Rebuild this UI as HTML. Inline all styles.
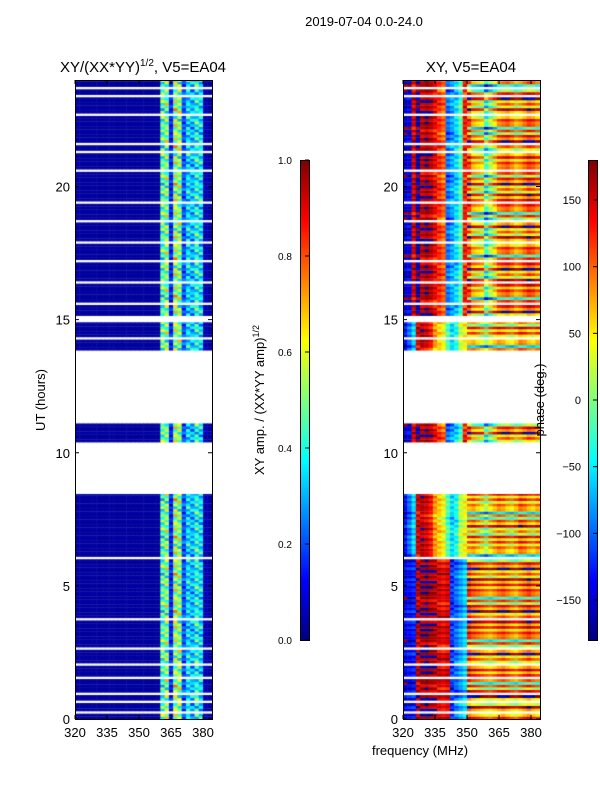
<!DOCTYPE html>
<html><head><meta charset="utf-8">
<style>
html,body{margin:0;padding:0;background:#fff;}
#wrap{position:relative;width:600px;height:800px;overflow:hidden;font-family:"Liberation Sans",sans-serif;}
canvas{position:absolute;}
svg{position:absolute;left:0;top:0;}
text{font-family:"Liberation Sans",sans-serif;fill:#000;}
</style></head>
<body>
<div id="wrap">
<canvas id="ampC" width="137" height="639" style="left:75px;top:80px"></canvas>
<canvas id="phC" width="137" height="639" style="left:403px;top:80px"></canvas>
<canvas id="cb1" width="9" height="480" style="left:300px;top:160px"></canvas>
<canvas id="cb2" width="9" height="480" style="left:588px;top:160px"></canvas>
<svg id="ov" width="600" height="800"></svg>
</div>
<script>
// ---- data ----
const freqMin = 320, freqMax = 384.2, tMin = 0, tMax = 24;
const xTicks = [320, 335, 350, 365, 380];
const yTicks = [0, 5, 10, 15, 20];
const cb1Ticks = [0.0, 0.2, 0.4, 0.6, 0.8, 1.0];
const cb2Ticks = [-150, -100, -50, 0, 50, 100, 150];
// amplitude per 2 MHz bin from 320 to 384
const ampCols = [0.03,0.03,0.03,0.03,0.03,0.03,0.03,0.03,0.03,0.03,0.03,0.03,0.03,0.03,0.03,0.03,0.03,0.03,0.03,0.03,0.45,0.5,0.15,0.55,0.5,0.2,0.35,0.3,0.4,0.35,0.05,0.03];
const ampRowMod = [1,0.7,1.3,0.9,1.2,0.6,1.1,0.8,1.4,1.0,0.75,1.25,0.85,1.15];
// phase per 2 MHz bin (320..384), by segment
const phaseLow  = [-150,-140,-130,160,170,175,165,160,150,140,150,-120,-100,-80,-60,120,100,90,80,70,60,75,90,100,85,70,60,80,95,110,90,80];
const phaseMid  = [-140,-100,-60,150,160,150,130,80,60,40,-20,-60,-40,20,40,60,70,50,30,10,40,60,80,70,50,40,60,90,80,60,50,70];
const phaseHigh = [-160,-150,150,-170,160,170,160,140,120,100,-100,-80,-60,-20,130,110,60,50,40,-30,10,40,80,90,100,80,60,70,90,110,100,80];
const phaseRowMod = [0,40,-30,60,-20,80,-60,20,-40,100,-10,50,-80,30,-120,10];
// time segments [start,end,profile]
const segments = [[0,6,'low'],[6,8.45,'mid'],[10.4,11.1,'high'],[13.85,14.9,'mid'],[15.15,24,'high']];
const thinGaps = [0.2,0.55,0.85,1.5,2.0,2.6,3.7,4.8,6.0,6.6,7.4,8.0,14.2,15.5,16.3,17.1,17.8,18.6,19.3,20.5,21.2,21.5,22.6,23.3,23.6];

function jet(v){v=Math.max(0,Math.min(1,v));
 const r=Math.max(0,Math.min(1,1.5-Math.abs(4*v-3))),g=Math.max(0,Math.min(1,1.5-Math.abs(4*v-2))),b=Math.max(0,Math.min(1,1.5-Math.abs(4*v-1)));
 return 'rgb('+Math.round(r*255)+','+Math.round(g*255)+','+Math.round(b*255)+')';}
const W=137,H=639;
const xS=f=>(f-freqMin)/(freqMax-freqMin)*W;
const yS=t=>H-(t-tMin)/(tMax-tMin)*H;
const dt=0.1;
function isGap(t){return thinGaps.some(g=>t>=g&&t<g+0.08);}
function draw(id,kind){
 const c=document.getElementById(id).getContext('2d');
 let ri=0;
 segments.forEach(s=>{
  for(let t=s[0];t<s[1]-1e-6;t+=dt){ri++;
   if(isGap(t))continue;
   const y0=yS(Math.min(t+dt,s[1])),y1=yS(t);
   if(kind==='amp'){
    ampCols.forEach((a,i)=>{const f=freqMin+i*2;
     const v=i>=20?a*ampRowMod[(ri+i)%ampRowMod.length]:a;
     c.fillStyle=jet(v);c.fillRect(xS(f),y0,xS(f+2)-xS(f)+0.5,y1-y0+0.3);});
   } else {
    const prof=s[2]==='low'?phaseLow:s[2]==='mid'?phaseMid:phaseHigh;
    prof.forEach((p,i)=>{const f=freqMin+i*2;
     let v=p+phaseRowMod[(ri+(i>=15?0:i>>2))%phaseRowMod.length]*(i>=15?1:0.3);
     if(v>180)v-=360; if(v<-180)v+=360;
     c.fillStyle=jet((v+180)/360);c.fillRect(xS(f),y0,xS(f+2)-xS(f)+0.5,y1-y0+0.3);});
   }
  }
 });
}
draw('ampC','amp');draw('phC','phase');
['cb1','cb2'].forEach(id=>{const c=document.getElementById(id).getContext('2d');
 for(let y=0;y<480;y++){c.fillStyle=jet(1-y/480);c.fillRect(0,y,9,1);}});

// ---- overlay ----
const ov=document.getElementById('ov');const NS='http://www.w3.org/2000/svg';
function el(tag,attrs,txt){const e=document.createElementNS(NS,tag);for(const k in attrs)e.setAttribute(k,attrs[k]);if(txt!==undefined)e.textContent=txt;ov.appendChild(e);return e;}
function panel(x0,name){
 const r=el('rect',{x:x0+0.5,y:80.5,width:W,height:H,fill:'none',stroke:'#000'});
 
 
 xTicks.forEach(f=>{const x=x0+xS(f);
  el('line',{x1:x,x2:x,y1:719,y2:715,stroke:'#000'});el('line',{x1:x,x2:x,y1:80,y2:84,stroke:'#000'});
  const t=el('text',{x:x,y:737,'font-size':13,'text-anchor':'middle'},String(f));
  
  });
 yTicks.forEach(v=>{const y=80+yS(v);
  el('line',{x1:x0,x2:x0+4,y1:y,y2:y,stroke:'#000'});el('line',{x1:x0+W,x2:x0+W-4,y1:y,y2:y,stroke:'#000'});
  const t=el('text',{x:x0-5,y:y+5,'font-size':13,'text-anchor':'end'},String(v));
  
  });
}
panel(75,'amp');panel(403,'phase');
function cbar(x0,ticks,lo,hi,fs,name){
 el('rect',{x:x0+0.5,y:160.5,width:9,height:480,fill:'none',stroke:'#000'});
 ticks.forEach(v=>{const y=640-(v-lo)/(hi-lo)*480;
  el('line',{x1:x0+5,x2:x0+9,y1:y,y2:y,stroke:'#000'});
  const t=el('text',{x:x0+(name==='cb1'?-22:-7),y:y+4,'font-size':fs,'text-anchor':name==='cb1'?'start':'end'},
   name==='cb1'?v.toFixed(1):(v<0?'\u2212'+Math.abs(v):String(v)));
  
  });
}
cbar(300,cb1Ticks,0,1,10,'cb1');
cbar(588,cb2Ticks,-180,180,11,'cb2');
</script>
<svg width="600" height="800" style="position:absolute;left:0;top:0">
<text x="364" y="26" font-size="13" text-anchor="middle">2019-07-04 0.0-24.0</text>
<text x="143" y="72" font-size="15" text-anchor="middle">XY/(XX*YY)<tspan font-size="10" dy="-6">1/2</tspan><tspan dy="6">, V5=EA04</tspan></text>
<text x="471" y="72" font-size="15" text-anchor="middle">XY, V5=EA04</text>
<text transform="translate(45,400) rotate(-90)" font-size="13" text-anchor="middle">UT (hours)</text>
<text transform="translate(264,400) rotate(-90)" font-size="13" text-anchor="middle">XY amp. / (XX*YY amp)<tspan font-size="9" dy="-5">1/2</tspan></text>
<text transform="translate(544,400) rotate(-90)" font-size="13" text-anchor="middle">phase (deg.)</text>
<text x="420" y="755" font-size="13" text-anchor="middle">frequency (MHz)</text>
</svg>
</body></html>
